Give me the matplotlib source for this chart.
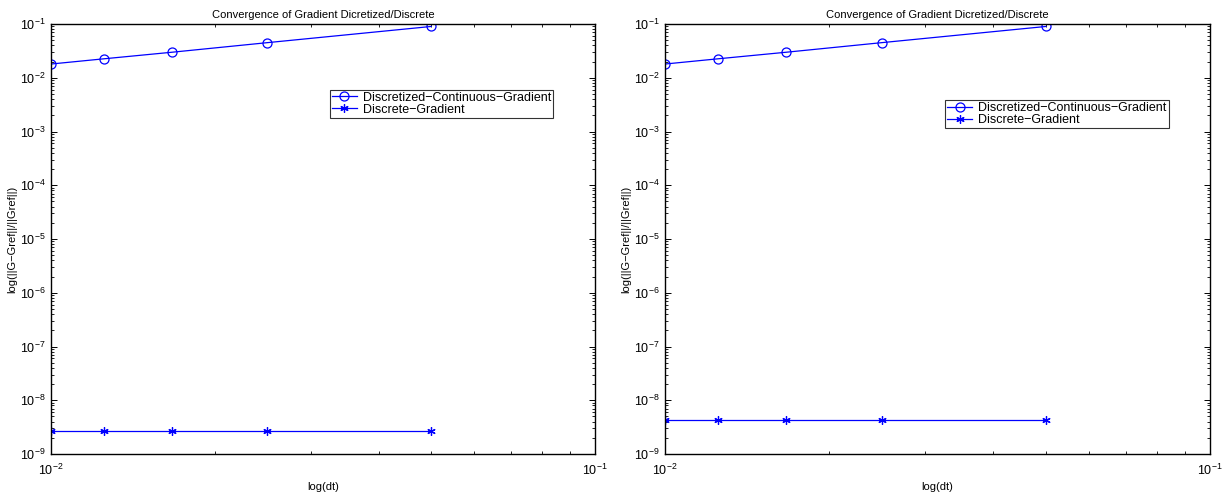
import matplotlib
matplotlib.use("Agg")
import matplotlib.pyplot as plt
from matplotlib.ticker import LogLocator, NullFormatter

plt.rcParams['font.family'] = ['Liberation Sans', 'DejaVu Sans']
plt.rcParams['mathtext.fontset'] = 'custom'
plt.rcParams['mathtext.rm'] = 'Liberation Sans'
plt.rcParams['mathtext.it'] = 'Liberation Sans:italic'
plt.rcParams['mathtext.bf'] = 'Liberation Sans:bold'

dt = [0.01, 0.0125, 1/60, 0.025, 0.05]
cont_left = [0.018, 0.0225, 0.0298, 0.045, 0.09]
disc_left = [2.72e-9, 2.72e-9, 2.72e-9, 2.72e-9, 2.72e-9]
cont_right = [0.018, 0.0225, 0.0298, 0.045, 0.09]
disc_right = [4.3e-9, 4.3e-9, 4.3e-9, 4.3e-9, 4.3e-9]

title = "Convergence of Gradient Dicretized/Discrete"
xlabel = "log(dt)"
ylabel = "log(||G\u2212Gref||/||Gref||)"
labels = ["Discretized\u2212Continuous\u2212Gradient", "Discrete\u2212Gradient"]

W, H = 1226, 495
fig = plt.figure(figsize=(W/100, H/100), dpi=100)

panels = [
    ((51, 24, 595, 454), cont_left, disc_left, (0.513, 0.847)),
    ((665, 24, 1210, 454), cont_right, disc_right, (0.514, 0.823)),
]

for (x0, y0, x1, y1), cont, disc, leg_pos in panels:
    ax = fig.add_axes([x0/W, (H-y1)/H, (x1-x0)/W, (y1-y0)/H])
    ax.loglog(dt, cont, color='blue', lw=0.9, marker='o', ms=6.5,
              mfc='none', mec='blue', mew=0.9, label=labels[0])
    ax.loglog(dt, disc, color='blue', lw=0.9, marker=(6, 2, 0), ms=6,
              mec='blue', mew=0.9, label=labels[1])
    ax.set_xlim(1e-2, 1e-1)
    ax.set_ylim(1e-9, 1e-1)
    ax.yaxis.set_major_locator(LogLocator(base=10, numticks=20))
    ax.yaxis.set_minor_locator(LogLocator(base=10, subs=range(2, 10), numticks=20))
    ax.yaxis.set_minor_formatter(NullFormatter())
    ax.xaxis.set_minor_formatter(NullFormatter())
    ax.tick_params(which='both', direction='in', top=True, right=True, labelsize=9)
    ax.tick_params(which='major', length=4.5, width=0.7)
    ax.tick_params(which='minor', length=2.2, width=0.6)
    ax.tick_params(axis='x', pad=6)
    ax.tick_params(axis='y', pad=4)
    for s in ax.spines.values():
        s.set_linewidth(1.0)
    ax.set_title(title, fontsize=8, pad=4)
    ax.set_xlabel(xlabel, fontsize=8, labelpad=3)
    ax.set_ylabel(ylabel, fontsize=8, labelpad=2)
    leg = ax.legend(loc='upper left', bbox_to_anchor=leg_pos, fontsize=9,
                    frameon=True, fancybox=False, edgecolor='black',
                    borderpad=0.15, labelspacing=0.0, handlelength=2.0,
                    handletextpad=0.5, borderaxespad=0)
    leg.get_frame().set_linewidth(0.8)

fig.savefig("out.png", dpi=100)
